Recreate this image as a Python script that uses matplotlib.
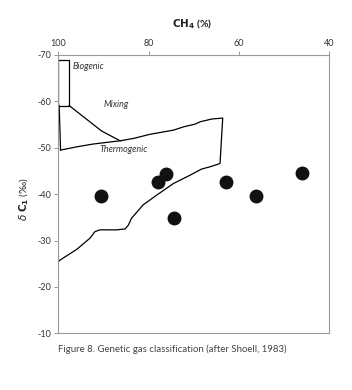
import matplotlib
matplotlib.use("Agg")
import matplotlib.pyplot as plt

plt.rcParams["font.family"] = ["Lato", "DejaVu Sans"]
plt.rcParams["axes.unicode_minus"] = False

# Samples: CH4 (%) and delta C1 (permil)
ch4 = [90.5, 77.9, 76.2, 74.3, 62.9, 56.3, 46.1]
d13c1 = [-39.5, -42.6, -44.3, -34.9, -42.6, -39.5, -44.5]

# Biogenic field (rectangle)
bio_x = [100.0, 97.6, 97.6, 100.0, 100.0]
bio_y = [-68.9, -68.9, -59.1, -59.1, -68.9]

# Mixing field boundaries
mix_left_x = [99.8, 99.5]
mix_left_y = [-59.1, -49.5]
mix_diag_x = [97.6, 90.4, 86.3]
mix_diag_y = [-59.1, -53.6, -51.5]

# Thermogenic field outline (upper edge, right edge, lower edge)
therm_x = [99.5, 95.9, 92.3, 88.9, 86.3, 83.4, 79.7, 74.5, 72.3, 69.7, 68.6,
           66.0, 63.6, 64.2, 66.4, 68.3, 70.8, 74.5, 78.2, 81.2, 83.8, 84.5,
           85.2, 87.1, 90.8, 91.9, 93.0, 95.9, 99.6, 100.0]
therm_y = [-49.5, -50.2, -50.8, -51.2, -51.5, -52.0, -52.9, -53.8, -54.5,
           -55.1, -55.6, -56.2, -56.4, -46.6, -45.9, -45.4, -44.1, -42.3,
           -39.8, -37.7, -34.8, -33.3, -32.5, -32.3, -32.3, -31.9, -30.5,
           -28.1, -25.8, -25.4]

x_ticks = [100, 80, 60, 40]
y_ticks = [-70, -60, -50, -40, -30, -20, -10]

fig = plt.figure(figsize=(3.52, 3.9), dpi=100)
ax = fig.add_axes([0.1656, 0.1454, 0.77, 0.7136])

lw = 0.9
ax.plot(bio_x, bio_y, color="black", linewidth=lw)
ax.plot(mix_left_x, mix_left_y, color="black", linewidth=lw)
ax.plot(mix_diag_x, mix_diag_y, color="black", linewidth=lw)
ax.plot(therm_x, therm_y, color="black", linewidth=lw)

ax.plot(ch4, d13c1, "o", color="#111111", markersize=9, linestyle="none")

ax.text(96.8, -67.5, "Biogenic", style="italic", fontsize=6.5, va="center", color="#333333")
ax.text(89.9, -59.4, "Mixing", style="italic", fontsize=6.5, va="center", color="#333333")
ax.text(90.8, -49.7, "Thermogenic", style="italic", fontsize=6.5, va="center", color="#333333")

ax.set_xlim(100, 40)
ax.set_ylim(-10, -70)
ax.set_xticks(x_ticks)
ax.set_yticks(y_ticks)
ax.xaxis.tick_top()
ax.tick_params(axis="both", labelsize=6.5, length=3, width=0.6, color="#888888",
               labelcolor="#333333", pad=2)

for s in ax.spines.values():
    s.set_color("#999999")
    s.set_linewidth(0.8)

fig.text(0.545, 0.938, r"$\mathbf{CH_4}$ (%)", ha="center", va="center",
         fontsize=7.5, fontweight="bold", color="#222222")
fig.text(0.07, 0.49, r"$\delta$ $\mathbf{C_1}$ (‰)", rotation=90, ha="center",
         va="center", fontsize=7.5, color="#222222")
fig.text(0.49, 0.105, "Figure 8. Genetic gas classification (after Shoell, 1983)",
         ha="center", va="center", fontsize=6.9, color="#444444")

fig.savefig("out.png", dpi=100)
